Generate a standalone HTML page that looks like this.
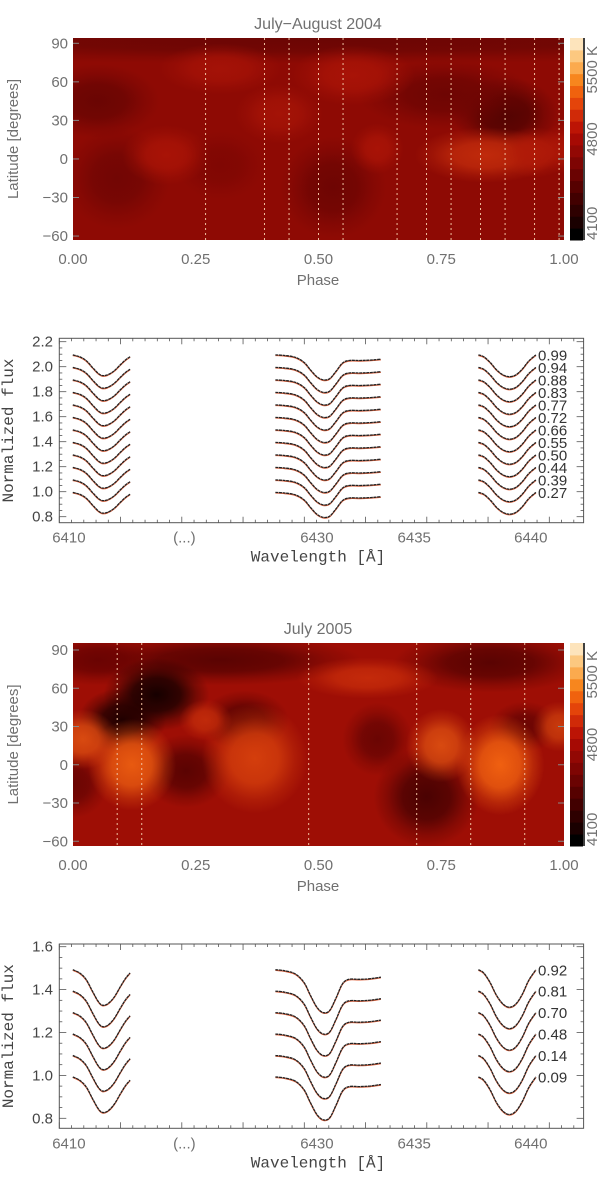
<!DOCTYPE html>
<html><head><meta charset="utf-8">
<style>
html,body{margin:0;padding:0;background:#fff;}
svg{display:block;}
.g{font-family:"Liberation Sans",sans-serif;fill:#707070;}
.m{font-family:"Liberation Mono",monospace;fill:#444;}
</style></head>
<body>
<svg id="fig" width="600" height="1178" viewBox="0 0 600 1178" xmlns="http://www.w3.org/2000/svg">
<defs id="defs">
<clipPath id="clip1"><rect x="73" y="38" width="491" height="202"/></clipPath>
<clipPath id="clip2"><rect x="73" y="643" width="491" height="203"/></clipPath>
</defs>
</svg>
<script>
const NS='http://www.w3.org/2000/svg';
const svg=document.getElementById('fig');
const defs=document.getElementById('defs');
function el(tag,attrs,parent){const e=document.createElementNS(NS,tag);for(const k in attrs)e.setAttribute(k,attrs[k]);(parent||svg).appendChild(e);return e;}
function txt(s,attrs,parent){const e=el('text',attrs,parent);e.textContent=s;return e;}

// ---------- DATA ----------
const map1Phases=[0.27,0.39,0.44,0.50,0.55,0.66,0.72,0.77,0.83,0.88,0.94,0.99];
const map2Phases=[0.09,0.14,0.48,0.70,0.81,0.92];
const phaseTicks=[0,0.25,0.5,0.75,1.0];
const phaseTickLabels=['0.00','0.25','0.50','0.75','1.00'];
const latTicks=[90,60,30,0,-30,-60];
const map1Base='rgb(142,10,4)';
const map2Base='rgb(158,14,5)';
// blobs: [phase, lat, rPhase, rLat, color]
const map1Blobs=[[0.5,92,0.7,10,'#6c0604'],[0.05,45,0.07,16,'#6a0503'],[0.09,-15,0.06,22,'#720604'],[0.88,35,0.06,16,'#520302'],[0.76,50,0.1,15,'#6e0503'],[0.53,-22,0.06,22,'#6e0503'],[0.30,-5,0.05,15,'#800703'],[0.84,3,0.08,12,'#c02a0b'],[0.57,65,0.07,13,'#a81307'],[0.30,70,0.07,11,'#a41207'],[0.42,35,0.05,13,'#a41307'],[0.19,3,0.05,13,'#a81306'],[0.62,8,0.03,11,'#a81306'],[1.0,8,0.03,11,'#a81306'],[0.94,5,0.04,11,'#b01a08']];
const map2Blobs=[[0.3,82,0.16,11,'#5a0302'],[0.85,80,0.11,13,'#5a0302'],[0.05,82,0.07,11,'#6a0302'],[0.17,55,0.06,16,'#160000'],[0.10,35,0.05,14,'#200000'],[0.35,35,0.05,13,'#5a0302'],[0.23,-5,0.05,16,'#5a0302'],[0.72,-25,0.06,22,'#4a0202'],[0.62,20,0.04,16,'#6a0503'],[0.92,30,0.04,11,'#6a0503'],[0.0,-15,0.04,15,'#6a0503'],[0.12,0,0.05,20,'#e85a10'],[0.02,20,0.04,13,'#d84a10'],[0.37,5,0.06,24,'#d43e0c'],[0.87,0,0.05,22,'#f06010'],[0.75,15,0.04,16,'#d84a10'],[0.6,68,0.08,9,'#c42a0a'],[0.27,35,0.03,9,'#c02a0a'],[0.99,30,0.03,11,'#c83a0c']];
const cbColors=['#000000','#1a0000','#2e0000','#420000','#560100','#6a0302','#7e0503','#920804','#a60a04','#bc1405','#d02a08','#e4440a','#f0620e','#f7861e','#fbaa4e','#fcc880','#fde4bc'];
// spectra templates [wavelength, flux] for offset-0 spectrum
const tmplLeft=[[6410.18,0.99],[6410.5,0.975],[6410.8,0.945],[6411.1,0.89],[6411.35,0.845],[6411.55,0.825],[6411.8,0.83],[6412.1,0.86],[6412.4,0.91],[6412.65,0.95],[6412.86,0.975]];
const tmplMid=[[6428.06,0.99],[6428.5,0.985],[6429,0.97],[6429.4,0.93],[6429.7,0.87],[6430,0.815],[6430.3,0.79],[6430.6,0.80],[6430.9,0.86],[6431.2,0.925],[6431.5,0.945],[6432,0.945],[6432.5,0.948],[6432.99,0.955]];
const tmplRight=[[6437.55,0.99],[6437.8,0.975],[6438.1,0.93],[6438.4,0.87],[6438.7,0.83],[6439.0,0.815],[6439.3,0.83],[6439.6,0.875],[6439.9,0.94],[6440.24,0.99]];
const spec1Labels=['0.27','0.39','0.44','0.50','0.55','0.66','0.72','0.77','0.83','0.88','0.94','0.99'];
const spec1Offsets=[0,0.1,0.2,0.3,0.4,0.5,0.6,0.7,0.8,0.9,1.0,1.1];
const spec2Labels=['0.09','0.14','0.48','0.70','0.81','0.92'];
const spec2Offsets=[0,0.1,0.2,0.3,0.4,0.5];
const wlTickLabels=['6410','(...)','6430','6435','6440'];
const flux1Ticks=[0.8,1.0,1.2,1.4,1.6,1.8,2.0,2.2];
const flux2Ticks=[0.8,1.0,1.2,1.4,1.6];

// ---------- MAPS ----------
let gradId=0;
function drawMap(o){
  const px=p=>73+p*491, py=l=>o.y90+(90-l)*o.k;
  const g=el('g',{'clip-path':o.clip});
  
  
  el('rect',{x:73,y:o.top,width:491,height:o.h,fill:o.base},g);
  o.blobs.forEach(b=>{
    const id='rg'+(gradId++);
    const rg=el('radialGradient',{id:id},defs);
    el('stop',{offset:'0','stop-color':b[4],'stop-opacity':1},rg);
    el('stop',{offset:'0.45','stop-color':b[4],'stop-opacity':0.8},rg);
    el('stop',{offset:'0.75','stop-color':b[4],'stop-opacity':0.3},rg);
    el('stop',{offset:'1','stop-color':b[4],'stop-opacity':0},rg);
    const e=el('ellipse',{cx:px(b[0]),cy:py(b[1]),rx:b[2]*491*1.8,ry:b[3]*o.k*1.8,fill:'url(#'+id+')'},g);
    
    
  });
  o.phases.forEach(p=>{
    const l=el('line',{x1:px(p),x2:px(p),y1:o.top,y2:o.top+o.h,stroke:'#f0c0a0','stroke-width':1,'stroke-dasharray':'2,3'},g);
    
    
  });
  const t=txt(o.title,{x:318,y:o.top-9,'text-anchor':'middle','font-size':16,class:'g'});
  
  
  latTicks.forEach(l=>{
    const tl=txt(l<0?'\u2212'+(-l):String(l),{x:68,y:py(l)+5,'text-anchor':'end','font-size':15,class:'g'});
    
    
    el('line',{x1:73,x2:79,y1:py(l),y2:py(l),stroke:'#888','stroke-width':1});
    el('line',{x1:558,x2:564,y1:py(l),y2:py(l),stroke:'#888','stroke-width':1});
  });
  phaseTicks.forEach((p,i)=>{
    const tl=txt(phaseTickLabels[i],{x:px(p),y:o.top+o.h+24,'text-anchor':'middle','font-size':15,class:'g'});
    
    
  });
  const xl=txt('Phase',{x:318,y:o.top+o.h+45,'text-anchor':'middle','font-size':15,class:'g'});
  
  
  const yl=txt('Latitude [degrees]',{x:18,y:o.top+o.h/2,'text-anchor':'middle','font-size':15,class:'g',transform:'rotate(-90 18 '+(o.top+o.h/2)+')'});
  
  
  const cb=el('g',{});
  
  
  const n=cbColors.length, bh=o.h/n;
  cbColors.forEach((c,i)=>{el('rect',{x:570,y:o.top+o.h-(i+1)*bh,width:13,height:bh+0.5,fill:c},cb);});
  el('line',{x1:584,x2:584,y1:o.top,y2:o.top+o.h,stroke:'#000','stroke-width':1.5},cb);
  const cx=597;
  [['4100',o.top+o.h],['4800',o.top+o.h/2],['5500 K',o.top+8]].forEach(a=>{
    const anchor=a[0]==='4100'?'start':(a[0]==='4800'?'middle':'end');
    const tl=txt(a[0],{x:cx,y:a[1],'text-anchor':anchor,'font-size':15,class:'g',transform:'rotate(-90 '+cx+' '+a[1]+')'});
    
    
  });
}
drawMap({clip:'url(#clip1)',name:'temperature-map-2004',top:38,h:202,y90:43.3,k:1.285,base:map1Base,blobs:map1Blobs,phases:map1Phases,title:'July\u2212August 2004'});
drawMap({clip:'url(#clip2)',name:'temperature-map-2005',top:643,h:203,y90:650,k:1.275,base:map2Base,blobs:map2Blobs,phases:map2Phases,title:'July 2005'});

// ---------- SPECTRA ----------
function wx(w){return w<6420?68.9+(w-6410)*21.39:316.9+(w-6430)*21.39;}
function smooth(pts){
  let d='M'+pts[0][0].toFixed(1)+','+pts[0][1].toFixed(1);
  for(let i=0;i<pts.length-1;i++){
    const p0=pts[Math.max(0,i-1)],p1=pts[i],p2=pts[i+1],p3=pts[Math.min(pts.length-1,i+2)];
    const c1=[p1[0]+(p2[0]-p0[0])/6,p1[1]+(p2[1]-p0[1])/6],c2=[p2[0]-(p3[0]-p1[0])/6,p2[1]-(p3[1]-p1[1])/6];
    d+=' C'+c1[0].toFixed(1)+','+c1[1].toFixed(1)+' '+c2[0].toFixed(1)+','+c2[1].toFixed(1)+' '+p2[0].toFixed(1)+','+p2[1].toFixed(1);
  }
  return d;
}
function drawSpec(o){
  const fy=f=>o.y08-(f-0.8)*o.k;
  const g=el('g',{});
  
  
  el('rect',{x:59.3,y:o.top,width:524.3,height:o.bot-o.top,fill:'none',stroke:'#555','stroke-width':1},g);
  for(let i=0;i<=43;i++){
    const x=59.3+i*12.25;if(x>583)break;
    const L=i%5===0?6:3;
    el('line',{x1:x,x2:x,y1:o.bot,y2:o.bot-L,stroke:'#555','stroke-width':0.8},g);
    el('line',{x1:x,x2:x,y1:o.top,y2:o.top+L,stroke:'#555','stroke-width':0.8},g);
  }
  const fmax=o.ticks[o.ticks.length-1];
  for(let f=0.75;f<=fmax+0.051;f+=0.05){
    const y=fy(f);if(y<o.top||y>o.bot)continue;
    const major=Math.abs(Math.round(f*10)/10-f)<0.001&&Math.round(f*10)%2===0;
    const L=major?7:3;
    el('line',{x1:59.3,x2:59.3+L,y1:y,y2:y,stroke:'#555','stroke-width':0.8},g);
    el('line',{x1:583.6,x2:583.6-L,y1:y,y2:y,stroke:'#555','stroke-width':0.8},g);
  }
  o.ticks.forEach(f=>{
    const t=txt(f.toFixed(1),{x:53,y:fy(f)+5,'text-anchor':'end','font-size':15,class:'g',style:'fill:#444'},g);
    
    
  });
  const wlPos=[6410,6415.4,6430,6434.55,6440];
  wlTickLabels.forEach((s,i)=>{
    const t=txt(s,{x:wx(wlPos[i]),y:o.bot+20,'text-anchor':'middle','font-size':15,class:'g'},g);
    
    
  });
  const xt=txt('Wavelength [\u00c5]',{x:318,y:o.bot+39,'text-anchor':'middle','font-size':16,class:'m'},g);
  
  
  const cy=(o.top+o.bot)/2;
  const yt=txt('Normalized flux',{x:13,y:cy,'text-anchor':'middle','font-size':16,class:'m',transform:'rotate(-90 13 '+cy+')'},g);
  
  
  o.offsets.forEach((off,i)=>{
    [tmplLeft,tmplMid,tmplRight].forEach(tm=>{
      const pts=tm.map(p=>[wx(p[0]),fy(p[1]+off)]);
      const r=el('path',{d:smooth(pts),fill:'none',stroke:'#e0603a','stroke-width':1.2},g);
      
      
      const b=el('path',{d:smooth(pts),fill:'none',stroke:'#222','stroke-width':1.3,'stroke-dasharray':'3,0.6',transform:'translate(0,-0.6)'},g);
      
      
    });
    const t=txt(o.labels[i],{x:538,y:fy(0.99+off)+5,'font-size':15,class:'g',style:'fill:#333'},g);
    
    
  });
}
drawSpec({name:'line-profiles-2004',top:338.3,bot:522.7,y08:516.7,k:125,ticks:flux1Ticks,offsets:spec1Offsets,labels:spec1Labels});
drawSpec({name:'line-profiles-2005',top:944,bot:1128.3,y08:1118.3,k:214.5,ticks:flux2Ticks,offsets:spec2Offsets,labels:spec2Labels});
</script>
</body></html>
